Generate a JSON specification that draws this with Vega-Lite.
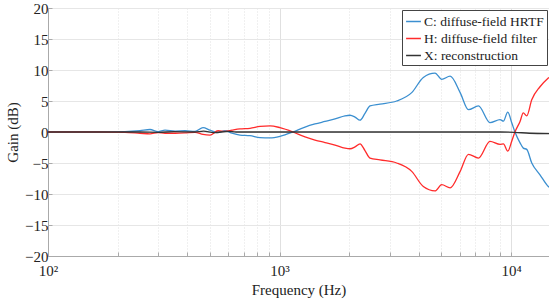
{
  "$schema": "https://vega.github.io/schema/vega-lite/v6.json",
  "width": 501,
  "height": 248,
  "autosize": {"type": "none"},
  "padding": {"left": 48, "top": 8, "right": 0, "bottom": 48},
  "background": "white",
  "config": {
    "view": {"stroke": "#bbbbbb", "strokeWidth": 1},
    "font": "Liberation Serif"
  },
  "data": {"values": [
    {"f": 100, "s": "C: diffuse-field HRTF", "g": 0},
    {"f": 167.7, "s": "C: diffuse-field HRTF", "g": 0},
    {"f": 215, "s": "C: diffuse-field HRTF", "g": 0.05},
    {"f": 249.7, "s": "C: diffuse-field HRTF", "g": 0.2},
    {"f": 275.8, "s": "C: diffuse-field HRTF", "g": 0.4},
    {"f": 298.7, "s": "C: diffuse-field HRTF", "g": 0.05},
    {"f": 320.2, "s": "C: diffuse-field HRTF", "g": 0.3},
    {"f": 353.8, "s": "C: diffuse-field HRTF", "g": 0.15},
    {"f": 390.7, "s": "C: diffuse-field HRTF", "g": 0.2},
    {"f": 431.5, "s": "C: diffuse-field HRTF", "g": 0.1},
    {"f": 467.2, "s": "C: diffuse-field HRTF", "g": 0.7},
    {"f": 501, "s": "C: diffuse-field HRTF", "g": 0.3},
    {"f": 542.5, "s": "C: diffuse-field HRTF", "g": -0.1},
    {"f": 581.5, "s": "C: diffuse-field HRTF", "g": 0.2},
    {"f": 623.5, "s": "C: diffuse-field HRTF", "g": -0.2},
    {"f": 675.2, "s": "C: diffuse-field HRTF", "g": -0.5},
    {"f": 745.7, "s": "C: diffuse-field HRTF", "g": -0.6},
    {"f": 823.8, "s": "C: diffuse-field HRTF", "g": -0.9},
    {"f": 909.9, "s": "C: diffuse-field HRTF", "g": -0.95},
    {"f": 1005, "s": "C: diffuse-field HRTF", "g": -0.7},
    {"f": 1144, "s": "C: diffuse-field HRTF", "g": 0},
    {"f": 1289, "s": "C: diffuse-field HRTF", "g": 0.8},
    {"f": 1423, "s": "C: diffuse-field HRTF", "g": 1.3},
    {"f": 1572, "s": "C: diffuse-field HRTF", "g": 1.7},
    {"f": 1737, "s": "C: diffuse-field HRTF", "g": 2.1},
    {"f": 1918, "s": "C: diffuse-field HRTF", "g": 2.6},
    {"f": 2016, "s": "C: diffuse-field HRTF", "g": 2.7},
    {"f": 2119, "s": "C: diffuse-field HRTF", "g": 2.4},
    {"f": 2227, "s": "C: diffuse-field HRTF", "g": 1.9},
    {"f": 2340, "s": "C: diffuse-field HRTF", "g": 3.0},
    {"f": 2460, "s": "C: diffuse-field HRTF", "g": 4.2},
    {"f": 2717, "s": "C: diffuse-field HRTF", "g": 4.5},
    {"f": 3206, "s": "C: diffuse-field HRTF", "g": 5.0},
    {"f": 3724, "s": "C: diffuse-field HRTF", "g": 6.35},
    {"f": 4180, "s": "C: diffuse-field HRTF", "g": 8.8},
    {"f": 4696, "s": "C: diffuse-field HRTF", "g": 9.5},
    {"f": 5020, "s": "C: diffuse-field HRTF", "g": 8.5},
    {"f": 5458, "s": "C: diffuse-field HRTF", "g": 9.0},
    {"f": 6030, "s": "C: diffuse-field HRTF", "g": 6.35},
    {"f": 6550, "s": "C: diffuse-field HRTF", "g": 3.6},
    {"f": 7230, "s": "C: diffuse-field HRTF", "g": 4.2},
    {"f": 8115, "s": "C: diffuse-field HRTF", "g": 1.5},
    {"f": 8970, "s": "C: diffuse-field HRTF", "g": 2.0},
    {"f": 9270, "s": "C: diffuse-field HRTF", "g": 1.75},
    {"f": 9680, "s": "C: diffuse-field HRTF", "g": 3.2},
    {"f": 10070, "s": "C: diffuse-field HRTF", "g": 1.5},
    {"f": 10400, "s": "C: diffuse-field HRTF", "g": 0},
    {"f": 10940, "s": "C: diffuse-field HRTF", "g": -1.75},
    {"f": 11300, "s": "C: diffuse-field HRTF", "g": -2.6},
    {"f": 11690, "s": "C: diffuse-field HRTF", "g": -2.8},
    {"f": 12290, "s": "C: diffuse-field HRTF", "g": -5.0},
    {"f": 13340, "s": "C: diffuse-field HRTF", "g": -6.9},
    {"f": 14490, "s": "C: diffuse-field HRTF", "g": -8.8},
    {"f": 14590, "s": "C: diffuse-field HRTF", "g": -8.9},

    {"f": 100, "s": "H: diffuse-field filter", "g": 0},
    {"f": 167.7, "s": "H: diffuse-field filter", "g": 0},
    {"f": 215, "s": "H: diffuse-field filter", "g": -0.05},
    {"f": 249.7, "s": "H: diffuse-field filter", "g": -0.2},
    {"f": 275.8, "s": "H: diffuse-field filter", "g": -0.3},
    {"f": 298.7, "s": "H: diffuse-field filter", "g": -0.1},
    {"f": 320.2, "s": "H: diffuse-field filter", "g": -0.2},
    {"f": 353.8, "s": "H: diffuse-field filter", "g": -0.2},
    {"f": 390.7, "s": "H: diffuse-field filter", "g": -0.15},
    {"f": 431.5, "s": "H: diffuse-field filter", "g": -0.05},
    {"f": 467.2, "s": "H: diffuse-field filter", "g": -0.4},
    {"f": 501, "s": "H: diffuse-field filter", "g": -0.5},
    {"f": 542.5, "s": "H: diffuse-field filter", "g": 0.2},
    {"f": 581.5, "s": "H: diffuse-field filter", "g": 0.1},
    {"f": 623.5, "s": "H: diffuse-field filter", "g": 0.3},
    {"f": 675.2, "s": "H: diffuse-field filter", "g": 0.5},
    {"f": 745.7, "s": "H: diffuse-field filter", "g": 0.6},
    {"f": 823.8, "s": "H: diffuse-field filter", "g": 0.9},
    {"f": 909.9, "s": "H: diffuse-field filter", "g": 1.0},
    {"f": 1005, "s": "H: diffuse-field filter", "g": 0.7},
    {"f": 1144, "s": "H: diffuse-field filter", "g": 0},
    {"f": 1289, "s": "H: diffuse-field filter", "g": -0.8},
    {"f": 1423, "s": "H: diffuse-field filter", "g": -1.3},
    {"f": 1572, "s": "H: diffuse-field filter", "g": -1.7},
    {"f": 1737, "s": "H: diffuse-field filter", "g": -2.1},
    {"f": 1918, "s": "H: diffuse-field filter", "g": -2.6},
    {"f": 2016, "s": "H: diffuse-field filter", "g": -2.7},
    {"f": 2119, "s": "H: diffuse-field filter", "g": -2.4},
    {"f": 2227, "s": "H: diffuse-field filter", "g": -1.9},
    {"f": 2340, "s": "H: diffuse-field filter", "g": -3.0},
    {"f": 2460, "s": "H: diffuse-field filter", "g": -4.2},
    {"f": 2717, "s": "H: diffuse-field filter", "g": -4.5},
    {"f": 3206, "s": "H: diffuse-field filter", "g": -5.0},
    {"f": 3724, "s": "H: diffuse-field filter", "g": -6.35},
    {"f": 4180, "s": "H: diffuse-field filter", "g": -8.8},
    {"f": 4696, "s": "H: diffuse-field filter", "g": -9.5},
    {"f": 5020, "s": "H: diffuse-field filter", "g": -8.5},
    {"f": 5458, "s": "H: diffuse-field filter", "g": -9.0},
    {"f": 6030, "s": "H: diffuse-field filter", "g": -6.35},
    {"f": 6550, "s": "H: diffuse-field filter", "g": -3.6},
    {"f": 7230, "s": "H: diffuse-field filter", "g": -4.2},
    {"f": 8115, "s": "H: diffuse-field filter", "g": -1.5},
    {"f": 8970, "s": "H: diffuse-field filter", "g": -2.0},
    {"f": 9270, "s": "H: diffuse-field filter", "g": -1.9},
    {"f": 9680, "s": "H: diffuse-field filter", "g": -3.1},
    {"f": 10070, "s": "H: diffuse-field filter", "g": -1.5},
    {"f": 10400, "s": "H: diffuse-field filter", "g": 0},
    {"f": 10940, "s": "H: diffuse-field filter", "g": 1.7},
    {"f": 11300, "s": "H: diffuse-field filter", "g": 3.1},
    {"f": 11690, "s": "H: diffuse-field filter", "g": 2.6},
    {"f": 12290, "s": "H: diffuse-field filter", "g": 5.2},
    {"f": 13340, "s": "H: diffuse-field filter", "g": 7.3},
    {"f": 14490, "s": "H: diffuse-field filter", "g": 8.7},
    {"f": 14590, "s": "H: diffuse-field filter", "g": 8.8},

    {"f": 100, "s": "X: reconstruction", "g": 0},
    {"f": 250, "s": "X: reconstruction", "g": 0},
    {"f": 300, "s": "X: reconstruction", "g": -0.05},
    {"f": 350, "s": "X: reconstruction", "g": 0.05},
    {"f": 430, "s": "X: reconstruction", "g": 0},
    {"f": 470, "s": "X: reconstruction", "g": 0.15},
    {"f": 520, "s": "X: reconstruction", "g": -0.1},
    {"f": 600, "s": "X: reconstruction", "g": 0.1},
    {"f": 650, "s": "X: reconstruction", "g": 0},
    {"f": 2000, "s": "X: reconstruction", "g": 0},
    {"f": 9000, "s": "X: reconstruction", "g": 0},
    {"f": 10400, "s": "X: reconstruction", "g": -0.05},
    {"f": 12000, "s": "X: reconstruction", "g": -0.2},
    {"f": 14590, "s": "X: reconstruction", "g": -0.25}
  ]},
  "mark": {"type": "line", "strokeWidth": 1.3, "clip": true, "interpolate": "monotone"},
  "encoding": {
    "x": {
      "field": "f", "type": "quantitative",
      "scale": {"type": "log", "domain": [100, 14590], "nice": false},
      "axis": {
        "title": "Frequency (Hz)",
        "titleFont": "Liberation Serif", "titleFontSize": 15, "titleFontWeight": "normal", "titleColor": "#222",
        "titlePadding": 4,
        "values": [100, 200, 300, 400, 500, 600, 700, 800, 900, 1000, 2000, 3000, 4000, 5000, 6000, 7000, 8000, 9000, 10000],
        "labelExpr": "datum.value == 100 ? '10²' : datum.value == 1000 ? '10³' : datum.value == 10000 ? '10⁴' : ''",
        "labelFont": "Liberation Serif", "labelFontSize": 15, "labelColor": "#222", "labelPadding": 11,
        "labelFlush": false,
        "grid": true,
        "gridColor": "#e0e0e0",
        "gridDash": {"condition": {"test": "indexof([100, 1000, 10000], datum.value) < 0", "value": [1, 2]}, "value": []},
        "ticks": true, "tickSize": -4, "tickColor": "#aaaaaa",
        "domainColor": "#aaaaaa"
      }
    },
    "y": {
      "field": "g", "type": "quantitative",
      "scale": {"domain": [-20, 20], "nice": false},
      "axis": {
        "title": "Gain (dB)",
        "titleFont": "Liberation Serif", "titleFontSize": 15, "titleFontWeight": "normal", "titleColor": "#222",
        "values": [-20, -15, -10, -5, 0, 5, 10, 15, 20],
        "labelFont": "Liberation Serif", "labelFontSize": 15, "labelColor": "#222", "labelPadding": 4,
        "labelFlush": false,
        "grid": true, "gridColor": "#e6e6e6",
        "ticks": true, "tickSize": -4, "tickColor": "#aaaaaa",
        "domainColor": "#aaaaaa"
      }
    },
    "color": {
      "field": "s", "type": "nominal",
      "scale": {
        "domain": ["C: diffuse-field HRTF", "H: diffuse-field filter", "X: reconstruction"],
        "range": ["#3b8fd0", "#ff2b2b", "#333333"]
      },
      "legend": {
        "title": null,
        "orient": "top-right",
        "offset": 2,
        "symbolType": "stroke",
        "symbolSize": 220,
        "symbolStrokeWidth": 1.5,
        "labelFont": "Liberation Serif", "labelFontSize": 13.5, "labelColor": "#222",
        "labelOffset": 2,
        "rowPadding": 2,
        "strokeColor": "#444444",
        "fillColor": "white",
        "padding": 3
      }
    }
  }
}
